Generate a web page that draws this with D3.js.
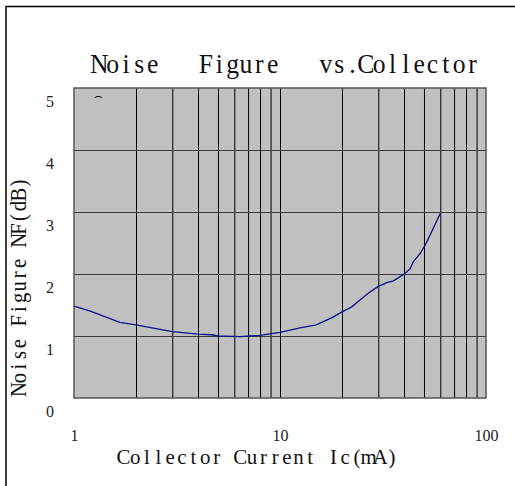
<!DOCTYPE html>
<html>
<head>
<meta charset="utf-8">
<script src="https://cdn.jsdelivr.net/npm/d3@7"></script>
<style>
  html, body { margin: 0; padding: 0; background: #fff; }
  svg { display: block; }
</style>
</head>
<body>
<svg id="chart" width="515" height="486"></svg>
<script>
// collector current (mA) and noise figure (dB)
const icVals = [1, 1.2, 1.67, 2, 3, 4, 4.66, 5, 6.4, 7.1, 8, 10, 12.5, 15, 18, 20, 22.3, 26.8, 30, 33, 35.5, 39.7, 42.7, 44.4, 47.9, 51.5, 60];
const nfVals = [1.48, 1.40, 1.22, 1.18, 1.07, 1.03, 1.02, 1.0, 0.99, 1.0, 1.01, 1.06, 1.13, 1.18, 1.30, 1.39, 1.47, 1.69, 1.80, 1.86, 1.89, 1.99, 2.08, 2.20, 2.33, 2.51, 2.98];

const xGrid = [2, 3, 4, 5, 6, 7, 8, 9, 10, 20, 30, 40, 50, 60, 70, 80, 90];
const yGrid = [1, 2, 3, 4];
const xTickLabels = [1, 10, 100];
const yTickLabels = [0, 1, 2, 3, 4, 5];

const titleText = "Noise   Figure   vs.Collector";
const xTitle = "Collector Current Ic(mA)";
const yTitle = "Noise Figure NF(dB)";

const svg = d3.select("#chart");

const pLeft = 74, pRight = 486, pTop = 88, pBottom = 398;

const x = d3.scaleLog().domain([1, 100]).range([pLeft, pRight]);
const y = d3.scaleLinear().domain([0, 5]).range([pBottom, pTop]);

// outer frame (top and left edges only)
svg.append("path")
  .attr("d", "M6,486 L6,6.5 L515,6.5")
  .attr("fill", "none")
  .attr("stroke", "#000")
  .attr("stroke-width", 1.5);

// plot background
svg.append("rect")
  .attr("x", x(1)).attr("y", y(5))
  .attr("width", x(100) - x(1))
  .attr("height", y(0) - y(5))
  .attr("fill", "#c0c0c0");

// vertical grid
const xg = svg.append("g")
  .attr("transform", `translate(0,${pBottom})`)
  .call(d3.axisBottom(x).tickValues(xGrid).tickSize(-(pBottom - pTop)).tickFormat(""));
xg.select(".domain").remove();
xg.selectAll("line").attr("stroke", "#000").attr("stroke-width", 1);

// horizontal grid
const yg = svg.append("g")
  .attr("transform", `translate(${pLeft},0)`)
  .call(d3.axisLeft(y).tickValues(yGrid).tickSize(-(pRight - pLeft)).tickFormat(""));
yg.select(".domain").remove();
yg.selectAll("line").attr("stroke", "#3a3a3a").attr("stroke-width", 1.2);

// plot border
svg.append("rect")
  .attr("x", x(1)).attr("y", y(5))
  .attr("width", x(100) - x(1))
  .attr("height", y(0) - y(5))
  .attr("fill", "none")
  .attr("stroke", "#555")
  .attr("stroke-width", 1.5);

// curve
const line = d3.line()
  .x((d, i) => x(icVals[i]))
  .y(d => y(d));

svg.append("path")
  .datum(nfVals)
  .attr("d", line)
  .attr("fill", "none")
  .attr("stroke", "#10108a")
  .attr("stroke-width", 1.3);

// small arc mark near the top-left
svg.append("text")
  .attr("x", x(1.32)).attr("y", y(4.8))
  .attr("text-anchor", "middle")
  .attr("font-family", "DejaVu Sans")
  .attr("font-size", 13)
  .attr("fill", "#000")
  .text("\u2322");

// y tick labels
const yl = svg.append("g")
  .attr("transform", "translate(50,0)")
  .call(d3.axisLeft(y).tickValues(yTickLabels).tickSize(0).tickPadding(0).tickFormat(d3.format("d")));
yl.select(".domain").remove();
yl.selectAll("text")
  .attr("text-anchor", "middle")
  .attr("dy", 18.5)
  .attr("font-family", "Liberation Serif")
  .attr("font-size", 16)
  .attr("fill", "#222");

// x tick labels
const xl = svg.append("g")
  .attr("transform", "translate(0,441)")
  .call(d3.axisBottom(x).tickValues(xTickLabels).tickSize(0).tickPadding(0).tickFormat(d3.format("d")));
xl.select(".domain").remove();
xl.selectAll("text")
  .attr("dy", 0)
  .attr("y", 0)
  .attr("font-family", "Liberation Serif")
  .attr("font-size", 16)
  .attr("fill", "#222");

// fixed-pitch serif text: every character centred in its own cell
function monoText(str, transform, pitch, size, sx) {
  const xs = Array.from(str).map((c, i) => (i * pitch) / sx);
  svg.append("text")
    .attr("transform", `${transform} scale(${sx},1)`)
    .attr("x", xs.join(" "))
    .attr("y", 0)
    .attr("text-anchor", "middle")
    .attr("font-family", "Liberation Serif")
    .attr("font-size", size)
    .attr("fill", "#111")
    .style("white-space", "pre")
    .text(str);
}

monoText(titleText, "translate(99.3,73)", 13.33, 27, 0.95);
monoText(xTitle, "translate(123.5,464)", 11.67, 22, 0.95);
monoText(yTitle, "translate(26,389.5) rotate(-90)", 11.47, 23, 0.9);
</script>
</body>
</html>
